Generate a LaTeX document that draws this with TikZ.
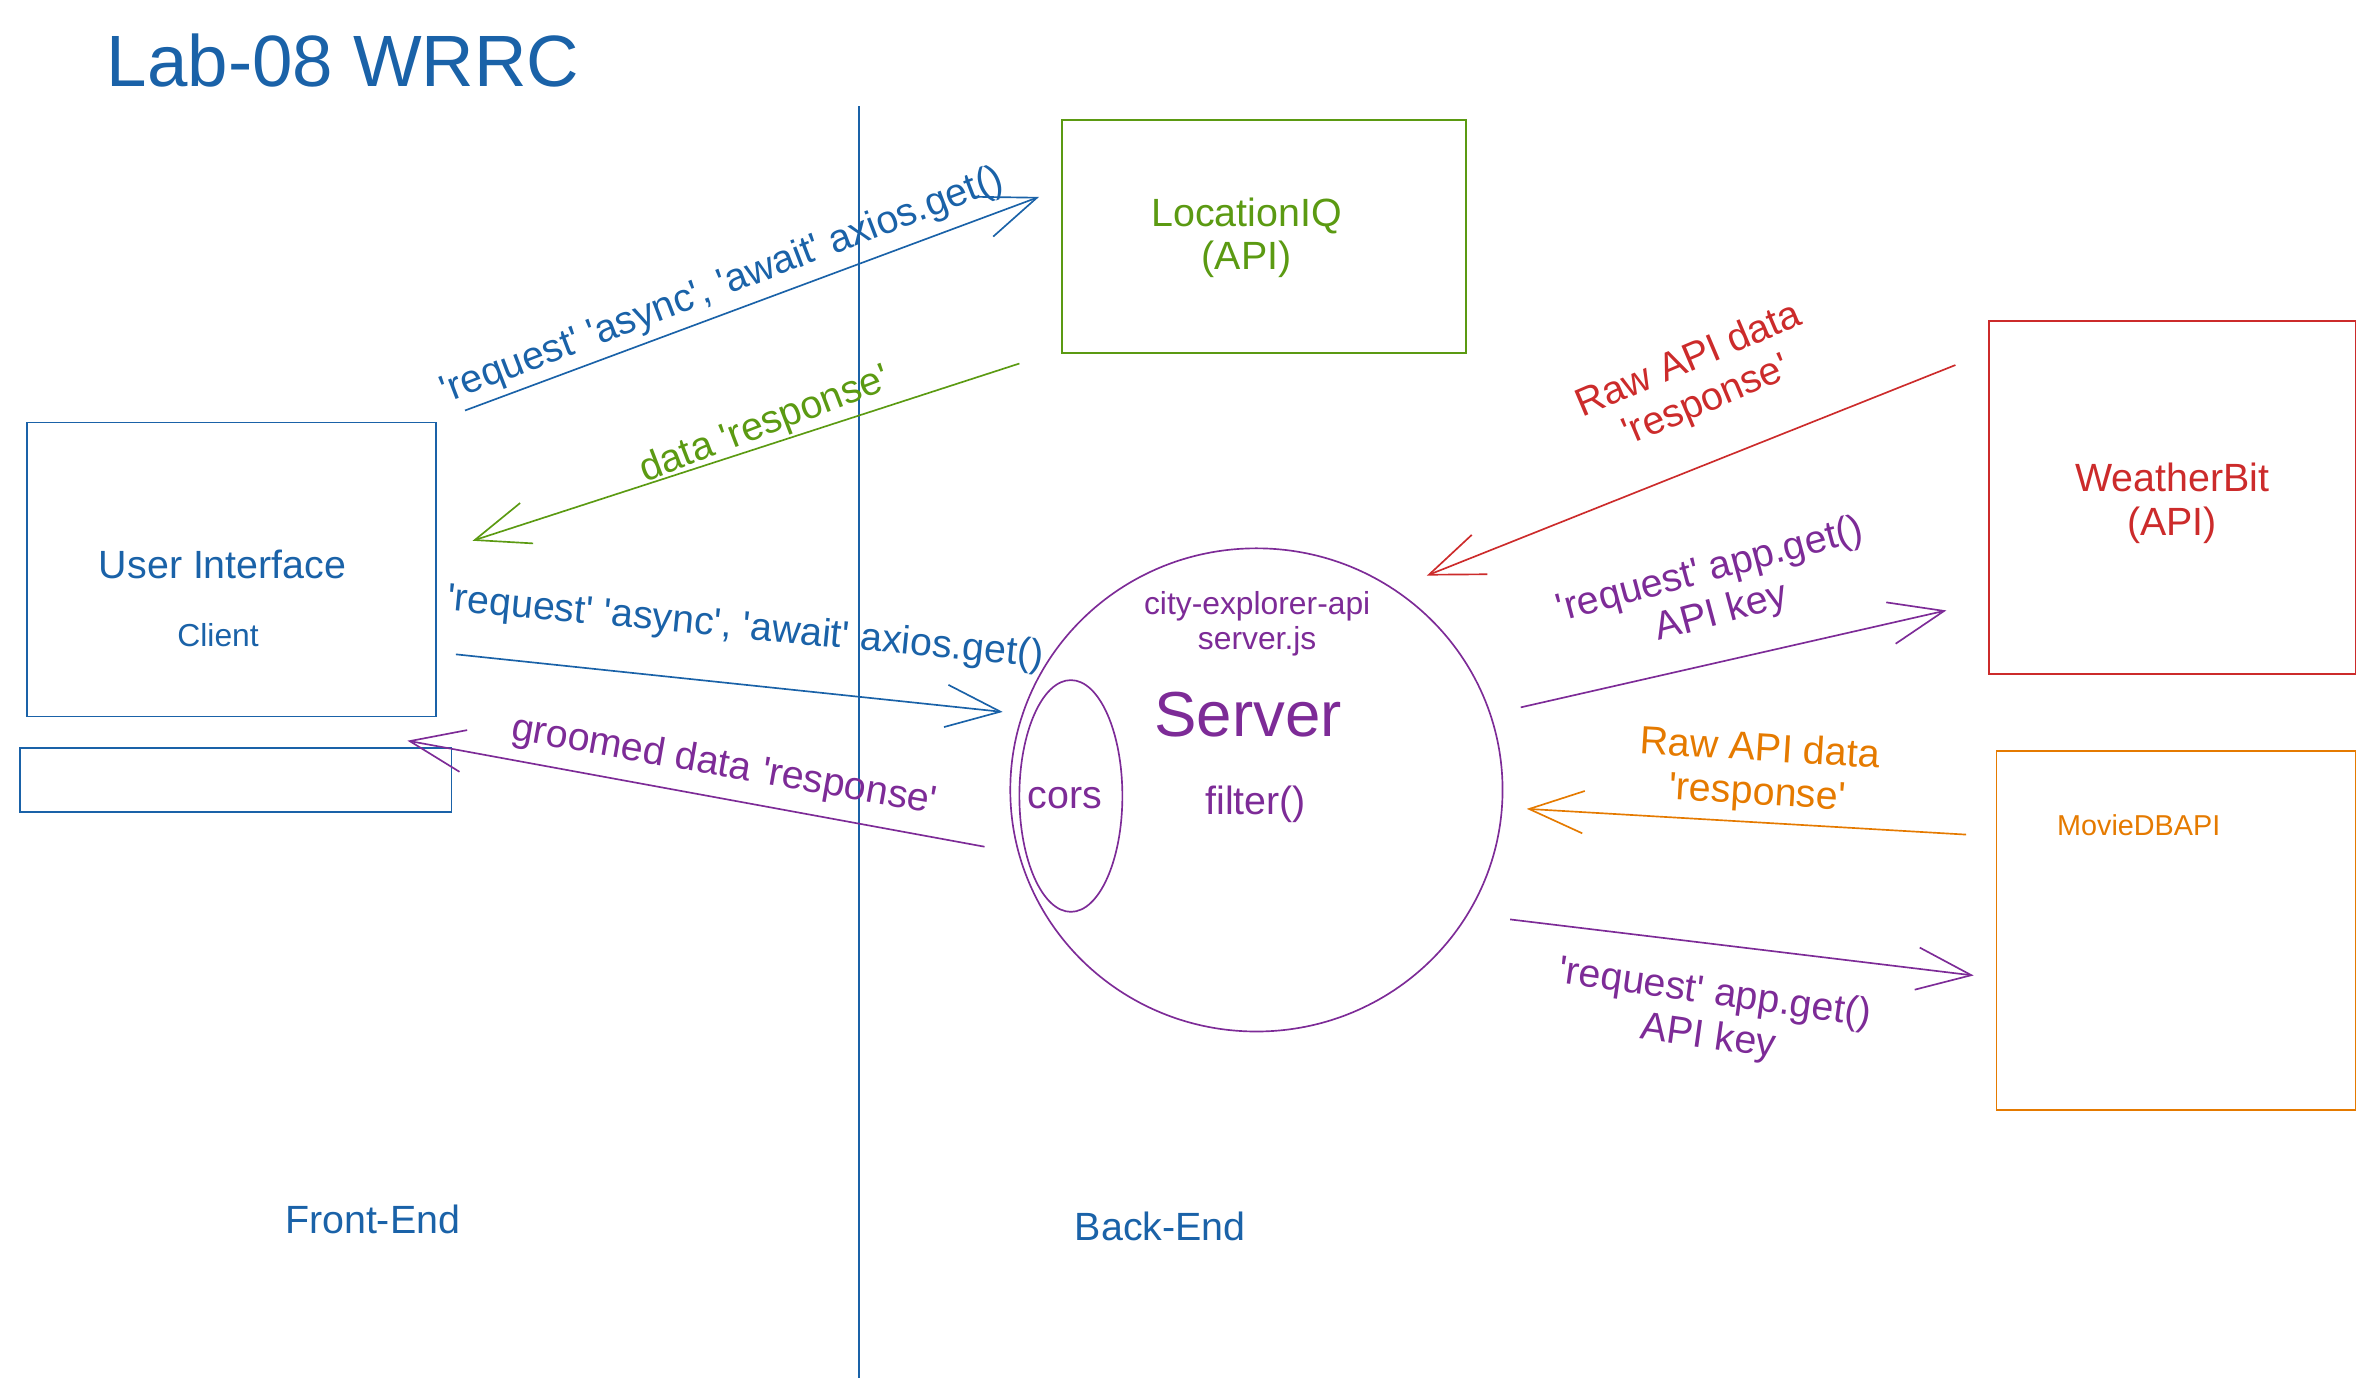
\documentclass[tikz,border=0pt]{standalone}
\usepackage{fontspec}
\setmainfont{Liberation Sans}[Ligatures=TeXOff]
\usetikzlibrary{arrows.meta,shapes.geometric}
\definecolor{cblue}{HTML}{1A62A8}
\definecolor{cgreen}{HTML}{5B9A12}
\definecolor{cred}{HTML}{CC2B2B}
\definecolor{corange}{HTML}{E57A00}
\definecolor{cpurple}{HTML}{7D2B97}
\begin{document}
\begin{tikzpicture}[x=1pt,y=-1pt,line width=1.1pt,
  fs/.style={font=\fontsize{26}{29}\selectfont},
  fsmall/.style={font=\fontsize{21}{23}\selectfont},
  lbl/.style={fs,align=center,inner sep=0pt},
  boxshape/.style={draw,rectangle,inner sep=0pt},
  arr/.style={-{Straight Barb[length=36pt,width=28pt]}}]
\useasboundingbox (0,0) rectangle (1568,922);
% title
\node[font=\fontsize{48}{54}\selectfont,text=cblue,anchor=base west,inner sep=0pt] (title) at (70,57) {Lab-08 WRRC};
% divider
\coordinate (divtop) at (567,70);
\coordinate (divbot) at (567,910);
\draw[cblue] (divtop) -- (divbot);
% boxes
\node[boxshape,cgreen,minimum width=267pt,minimum height=154pt] (loc) at (834.5,156) {};
\node[lbl,text=cgreen] (loctext) at (823,157) {LocationIQ\\(API)};
\node[boxshape,cblue,minimum width=270pt,minimum height=194pt] (ui) at (153,376) {};
\node[lbl,text=cblue,anchor=base] (uitext) at (147,382) {User Interface};
\node[fsmall,text=cblue,anchor=base,inner sep=0pt] (client) at (144,427) {Client};
\node[boxshape,cblue,minimum width=285pt,minimum height=42pt] (small) at (155.5,515) {};
\node[boxshape,cred,minimum width=242pt,minimum height=233pt] (wb) at (1434,328.5) {};
\node[lbl,text=cred] (wbtext) at (1434,332) {WeatherBit\\(API)};
\node[boxshape,corange,minimum width=237pt,minimum height=237pt] (mdb) at (1436.5,614.5) {};
\node[font=\fontsize{19}{21}\selectfont,text=corange,inner sep=0pt] (mdbtext) at (1412,545) {MovieDBAPI};
% server
\node[draw,cpurple,ellipse,inner sep=0pt,minimum width=325pt,minimum height=319pt] (server) at (829.5,521.5) {};
\node[draw,cpurple,ellipse,inner sep=0pt,minimum width=68pt,minimum height=153pt] (cors) at (707,525.5) {};
\node[lbl,text=cpurple] (corstext) at (703,527) {cors};
\node[fsmall,align=center,text=cpurple,inner sep=0pt] (srvname) at (830,412) {city-explorer-api\\server.js};
\node[font=\fontsize{42}{46}\selectfont,text=cpurple,inner sep=0pt] (srvtitle) at (824,472) {Server};
\node[lbl,text=cpurple] (filter) at (829,531) {filter()};
% footers
\node[lbl,text=cblue] (front) at (246,805) {Front-End};
\node[lbl,text=cblue] (back) at (766,810) {Back-End};
% arrow end points
\coordinate (a1s) at (307,271); \coordinate (a1e) at (686,130);
\coordinate (a2s) at (673,240); \coordinate (a2e) at (312,357);
\coordinate (a3s) at (301,432); \coordinate (a3e) at (662,470);
\coordinate (a4s) at (650,559); \coordinate (a4e) at (269,489);
\coordinate (a5s) at (1291,241); \coordinate (a5e) at (942,380);
\coordinate (a6s) at (1004,467); \coordinate (a6e) at (1285,403);
\coordinate (a7s) at (1298,551); \coordinate (a7e) at (1008,534);
\coordinate (a8s) at (997,607); \coordinate (a8e) at (1303,644);
\draw[arr,cblue] (a1s) -- (a1e);
\draw[arr,cgreen] (a2s) -- (a2e);
\draw[arr,cblue] (a3s) -- (a3e);
\draw[arr,cpurple] (a4s) -- (a4e);
\draw[arr,cred] (a5s) -- (a5e);
\draw[arr,cpurple] (a6s) -- (a6e);
\draw[arr,corange] (a7s) -- (a7e);
\draw[arr,cpurple] (a8s) -- (a8e);
% arrow labels
\node[lbl,text=cblue,rotate=21] (l1) at (477,189) {'request' 'async', 'await' axios.get()};
\node[lbl,text=cgreen,rotate=21] (l2) at (505,281) {data 'response'};
\node[lbl,text=cblue,rotate=-5.5] (l3) at (492,415) {'request' 'async', 'await' axios.get()};
\node[lbl,text=cpurple,rotate=-10] (l4) at (478,506) {groomed data 'response'};
\node[lbl,text=cred,rotate=23] (l5) at (1121,252) {Raw API data\\'response'};
\node[lbl,text=cpurple,rotate=15] (l6) at (1133,391) {'request' app.get()\\API key};
\node[lbl,text=corange,rotate=-3.5] (l7) at (1161,510) {Raw API data\\'response'};
\node[lbl,text=cpurple,rotate=-8] (l8) at (1130,671) {'request' app.get()\\API key};
\end{tikzpicture}
\end{document}
